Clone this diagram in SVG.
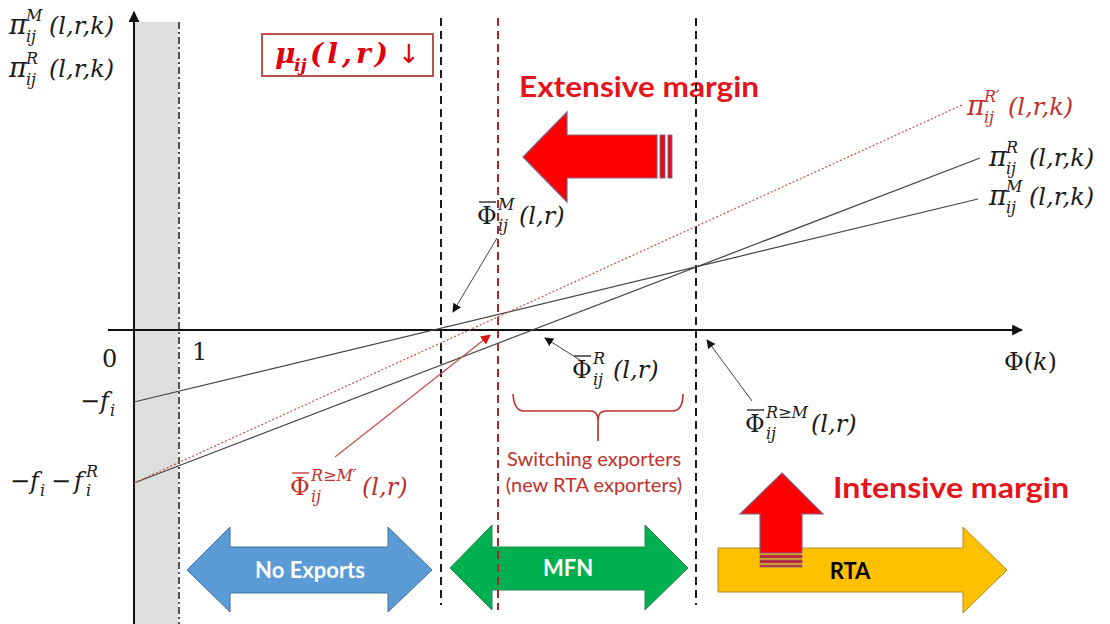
<svg xmlns="http://www.w3.org/2000/svg" width="1110" height="624" viewBox="0 0 1110 624">
<defs>
<style>
.m{font-family:"DejaVu Serif",serif;font-style:italic;font-size:24px;fill:#1a1a1a}
.pi{font-family:"DejaVu Serif",serif;font-style:italic;font-size:27px;fill:#1a1a1a}
.ms{font-family:"DejaVu Serif",serif;font-style:italic;font-size:16px;fill:#1a1a1a}
.up{font-family:"DejaVu Serif",serif;font-size:24px;fill:#1a1a1a}
.red{fill:#c0302b}
.big{font-family:Lato,"Liberation Sans",sans-serif;font-weight:bold;font-size:29px;fill:#e5141b}
.lbl{font-family:Lato,"Liberation Sans",sans-serif;font-weight:bold;font-size:22px}
.sw{font-family:Lato,"Liberation Sans",sans-serif;font-size:20px;fill:#c0302b}
.dash{stroke:#1a1a1a;stroke-width:2;stroke-dasharray:8 5;fill:none}
.curve{stroke:#444;stroke-width:1.2;fill:none}
.lead{stroke:#444;stroke-width:1;fill:none}
.bar{stroke:#1a1a1a;stroke-width:1.3}
</style>
<marker id="ah" viewBox="0 0 10 10" refX="9" refY="5" markerWidth="9" markerHeight="9" markerUnits="userSpaceOnUse" orient="auto"><path d="M0,0L10,5L0,10z" fill="#111"/></marker>
<marker id="ahr" viewBox="0 0 10 10" refX="9" refY="5" markerWidth="10" markerHeight="10" markerUnits="userSpaceOnUse" orient="auto"><path d="M0,0L10,5L0,10z" fill="#e01010"/></marker>
<marker id="axh" viewBox="0 0 10 10" refX="9" refY="5" markerWidth="11" markerHeight="11" markerUnits="userSpaceOnUse" orient="auto"><path d="M0,0L10,5L0,10z" fill="#111"/></marker>
</defs>
<rect width="1110" height="624" fill="#fff"/>

<!-- shaded band -->
<rect x="135" y="22" width="43" height="602" fill="#dcdfdc"/>

<!-- bottom arrows -->
<g id="no-exports">
<polygon points="187,570 230,527 230,547 388,547 388,527 432,570 388,612 388,593 230,593 230,612" fill="#5b9bd5" stroke="#41719c" stroke-width="1"/>
<text x="310" y="578" class="lbl" fill="#fff" text-anchor="middle">No Exports</text>
</g>
<g id="mfn">
<polygon points="450,568 492,525 492,547 645,547 645,525 688,568 645,610 645,590 492,590 492,610" fill="#00b050" stroke="#2b8a4e" stroke-width="1"/>
<text x="568" y="576" class="lbl" fill="#fff" text-anchor="middle">MFN</text>
</g>
<g id="rta">
<polygon points="718,548 963,548 963,527 1007,570 963,613 963,592 718,592" fill="#ffc000" stroke="#b08a2a" stroke-width="1"/>
<text x="850" y="579" class="lbl" fill="#000" text-anchor="middle">RTA</text>
</g>
<g id="intensive-arrow">
<polygon points="782,473 823,514 802,514 802,553 760,553 760,514 740,514" fill="#ff0000" stroke="#7f6084" stroke-width="1.2"/>
<rect x="760" y="555" width="42" height="3" fill="#c8202a" stroke="#7f6084" stroke-width="0.8"/>
<rect x="760" y="560" width="42" height="3" fill="#c8202a" stroke="#7f6084" stroke-width="0.8"/>
<rect x="760" y="565" width="42" height="2" fill="#c8202a" stroke="#7f6084" stroke-width="0.8"/>
</g>
<g id="intensive-label"><text x="833" y="498" class="big" textLength="236" lengthAdjust="spacingAndGlyphs">Intensive margin</text></g>

<g id="extensive-arrow">
<polygon points="523,157 567,112 567,135 657,135 657,178 567,178 567,202" fill="#ff0000" stroke="#7f6084" stroke-width="1.2"/>
<rect x="660" y="135" width="5" height="43" fill="#e0101a" stroke="#7f6084" stroke-width="0.9"/>
<rect x="668" y="135" width="4" height="43" fill="#e0101a" stroke="#7f6084" stroke-width="0.9"/>
</g>
<g id="extensive-label"><text x="519" y="97" class="big" textLength="240" lengthAdjust="spacingAndGlyphs">Extensive margin</text></g>

<!-- vertical guide lines -->
<g id="guides">
<line x1="179" y1="22" x2="179" y2="624" stroke="#1a1a1a" stroke-width="1.5" stroke-dasharray="7 3 2 3"/>
<line x1="441" y1="18" x2="441" y2="605" class="dash"/>
<line x1="696" y1="18" x2="696" y2="605" class="dash"/>
<line x1="498" y1="18" x2="498" y2="610" stroke="#a52a2a" stroke-width="2" stroke-dasharray="8 5"/>
</g>

<!-- axes -->
<g id="axes">
<line x1="134" y1="624" x2="134" y2="12" stroke="#111" stroke-width="2" marker-end="url(#axh)"/>
<line x1="108" y1="330" x2="1022" y2="330" stroke="#111" stroke-width="2" marker-end="url(#axh)"/>
</g>

<!-- profit lines -->
<g id="profit-lines">
<line x1="134" y1="402" x2="978" y2="199" class="curve"/>
<line x1="134" y1="483" x2="980" y2="158" class="curve"/>
<line x1="134" y1="483" x2="962" y2="105" stroke="#c0504d" stroke-width="1.2" stroke-dasharray="2 2"/>
</g>

<!-- connectors -->
<g id="connectors">
<line x1="497" y1="238" x2="453" y2="312" class="lead" marker-end="url(#ah)"/>
<line x1="580" y1="360" x2="545" y2="338" class="lead" marker-end="url(#ah)"/>
<line x1="752" y1="401" x2="707" y2="340" class="lead" marker-end="url(#ah)"/>
<line x1="335" y1="457" x2="490" y2="335" stroke="#c0504d" stroke-width="1.2" marker-end="url(#ahr)"/>
</g>

<!-- brace -->
<g id="brace">
<path d="M513,394 Q514,411 524,411 L590,411 Q598,411 598,420 L598,441 M598,420 Q598,411 606,411 L672,411 Q683,411 683,394" fill="none" stroke="#c0302b" stroke-width="1.6"/>
<text x="594" y="466" class="sw" text-anchor="middle">Switching exporters</text>
<text x="594" y="492" class="sw" text-anchor="middle">(new RTA exporters)</text>
</g>

<!-- mu box -->
<g id="mu-box">
<rect x="262" y="34" width="171" height="42" fill="none" stroke="#c0504d" stroke-width="2"/>
<text x="275" y="63" font-family="DejaVu Serif,serif" font-style="italic" font-weight="bold" font-size="28" fill="#e0000b">μ</text>
<text x="294" y="71" font-family="DejaVu Serif,serif" font-style="italic" font-weight="bold" font-size="17" fill="#e0000b">ij</text>
<text x="310" y="63" font-family="DejaVu Serif,serif" font-style="italic" font-weight="bold" font-size="28" fill="#e0000b" textLength="78" lengthAdjust="spacing">(l,r)</text>
<text x="398" y="63" font-family="DejaVu Sans,sans-serif" font-size="26" fill="#e0000b">↓</text>
</g>

<!-- y axis labels -->
<g id="y-label-M">
<text x="9" y="34" class="pi">π</text><text x="26" y="21" class="ms">M</text><text x="26" y="42" class="ms">ij</text><text x="49" y="34" class="m">(l,r,k)</text>
</g>
<g id="y-label-R">
<text x="9" y="77" class="pi">π</text><text x="26" y="64" class="ms">R</text><text x="26" y="85" class="ms">ij</text><text x="49" y="77" class="m">(l,r,k)</text>
</g>

<!-- right line labels -->
<g id="label-piRprime">
<text x="967" y="115" class="pi red">π</text><text x="984" y="102" class="ms red">R′</text><text x="984" y="123" class="ms red">ij</text><text x="1008" y="115" class="m red">(l,r,k)</text>
</g>
<g id="label-piR">
<text x="989" y="166" class="pi">π</text><text x="1006" y="153" class="ms">R</text><text x="1006" y="174" class="ms">ij</text><text x="1029" y="166" class="m">(l,r,k)</text>
</g>
<g id="label-piM">
<text x="989" y="205" class="pi">π</text><text x="1006" y="192" class="ms">M</text><text x="1006" y="213" class="ms">ij</text><text x="1029" y="205" class="m">(l,r,k)</text>
</g>

<!-- threshold labels -->
<g id="label-PhiM">
<line x1="479" y1="202" x2="496" y2="202" class="bar"/>
<text x="477" y="224" class="up">Φ</text><text x="498" y="210" class="ms">M</text><text x="498" y="231" class="ms">ij</text><text x="519" y="224" class="m">(l,r)</text>
</g>
<g id="label-PhiR">
<line x1="574" y1="356" x2="591" y2="356" class="bar"/>
<text x="572" y="378" class="up">Φ</text><text x="593" y="364" class="ms">R</text><text x="593" y="385" class="ms">ij</text><text x="613" y="378" class="m">(l,r)</text>
</g>
<g id="label-PhiRM">
<line x1="747" y1="410" x2="764" y2="410" class="bar"/>
<text x="745" y="432" class="up">Φ</text><text x="766" y="418" class="ms">R≥M</text><text x="766" y="439" class="ms">ij</text><text x="811" y="432" class="m">(l,r)</text>
</g>
<g id="label-PhiRMprime">
<line x1="292" y1="473" x2="309" y2="473" stroke="#c0302b" stroke-width="1.3"/>
<text x="290" y="495" class="up red">Φ</text><text x="311" y="481" class="ms red">R≥M′</text><text x="311" y="502" class="ms red">ij</text><text x="362" y="495" class="m red">(l,r)</text>
</g>

<!-- axis labels -->
<g id="axis-labels">
<text x="1004" y="370" class="up">Φ(<tspan font-style="italic">k</tspan>)</text>
<text x="102" y="367" class="up">0</text>
<text x="192" y="360" class="up">1</text>
<text x="80" y="409" class="up">−<tspan font-style="italic">f</tspan></text><text x="110" y="416" class="ms">i</text>
<text x="10" y="489" class="up">−<tspan font-style="italic">f</tspan></text><text x="40" y="496" class="ms">i</text>
<text x="51" y="489" class="up">−</text><text x="74" y="489" class="m">f</text><text x="86" y="496" class="ms">i</text><text x="86" y="477" class="ms">R</text>
</g>
</svg>
